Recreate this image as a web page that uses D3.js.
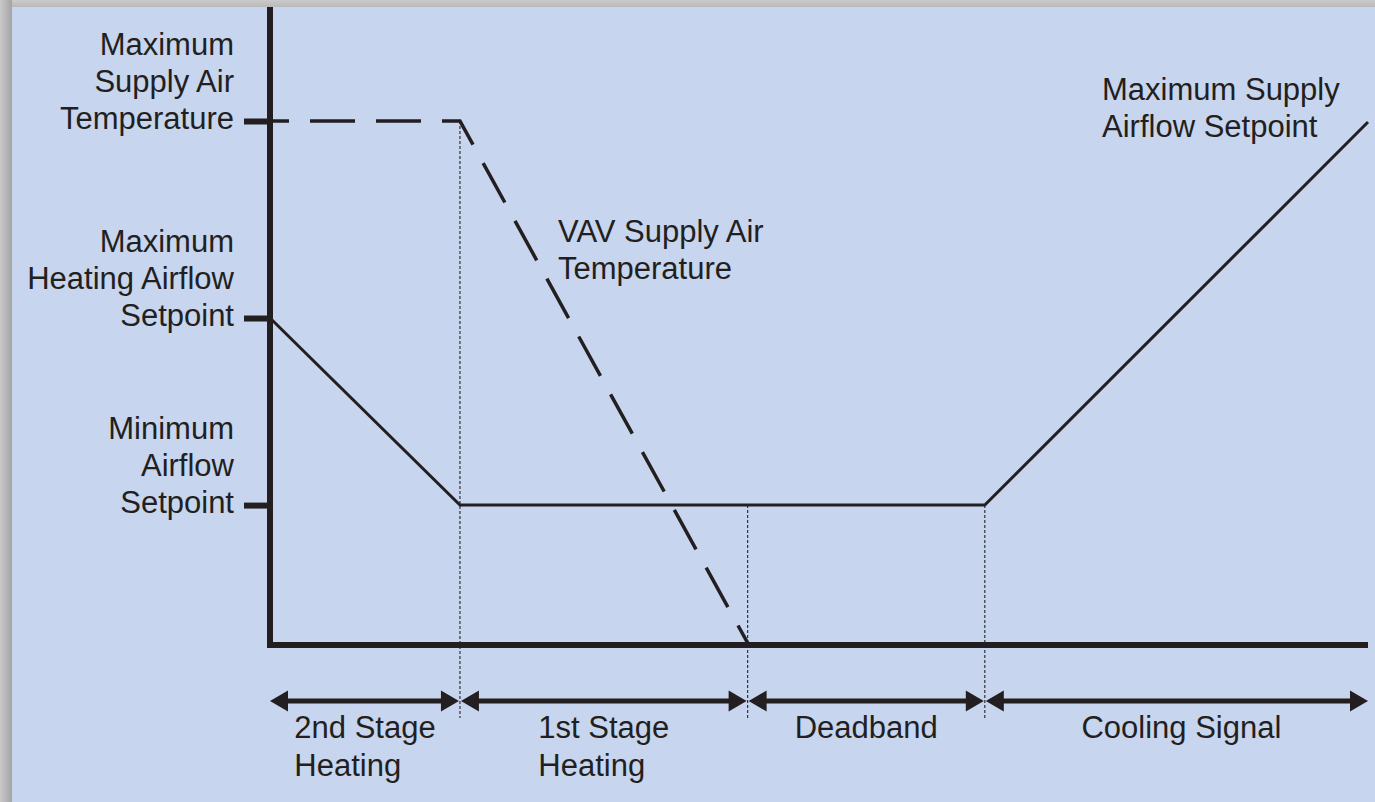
<!DOCTYPE html>
<html>
<head>
<meta charset="utf-8">
<script src="https://cdn.jsdelivr.net/npm/d3@7"></script>
<style>
  html, body { margin: 0; padding: 0; background: #c4c4c4; }
  svg { display: block; }
  text { font-family: "Liberation Sans", Arial, sans-serif; fill: #231f20; }
</style>
</head>
<body>
<svg id="chart" width="1375" height="802"></svg>
<script>
// ---- data (signal position 0..100, output level 0..100) ----
const regionBounds = [0, 17.3, 43.5, 65.1, 100];
const regionLabels = [["2nd Stage", "Heating"], ["1st Stage", "Heating"], ["Deadband"], ["Cooling Signal"]];
const airflowX = [0, 17.3, 65.1, 100];
const airflowY = [62.4, 26.7, 26.7, 99.8];
const supplyTempX = [0, 17.3, 43.5];
const supplyTempY = [100, 100, 0.4];
const yTickValues = [100, 62.4, 26.7];
const yTickLabels = [
  ["Maximum", "Supply Air", "Temperature"],
  ["Maximum", "Heating Airflow", "Setpoint"],
  ["Minimum", "Airflow", "Setpoint"]
];
const guideX = [17.3, 43.5, 65.1];
const guideTopY = [100, 26.7, 26.7];
const annotations = [
  { lines: ["VAV Supply Air", "Temperature"], x: 558, y: 242 },
  { lines: ["Maximum Supply", "Airflow Setpoint"], x: 1102, y: 100 }
];

// ---- layout ----
const W = 1375, H = 802;
const panel = { x: 12, y: 7 };
const ink = "#231f20";
const fontSize = 31, lineH = 37;

const svg = d3.select("#chart");
const defs = svg.append("defs");
const gl = defs.append("linearGradient").attr("id", "shadeL").attr("x1", 0).attr("x2", 1);
gl.append("stop").attr("offset", 0).attr("stop-color", "#c9c9c9");
gl.append("stop").attr("offset", 1).attr("stop-color", "#a4a4a4");
const gt = defs.append("linearGradient").attr("id", "shadeT").attr("x1", 0).attr("x2", 0).attr("y1", 0).attr("y2", 1);
gt.append("stop").attr("offset", 0).attr("stop-color", "#cbcbcb");
gt.append("stop").attr("offset", 1).attr("stop-color", "#b9b9b9");

svg.append("rect").attr("x", 0).attr("y", 0).attr("width", W).attr("height", H).attr("fill", "#c6c6c6");
svg.append("rect").attr("x", 0).attr("y", 0).attr("width", panel.x).attr("height", H).attr("fill", "url(#shadeL)");
svg.append("rect").attr("x", panel.x).attr("y", 0).attr("width", W - panel.x).attr("height", panel.y).attr("fill", "url(#shadeT)");
svg.append("rect").attr("x", panel.x).attr("y", panel.y).attr("width", W - panel.x).attr("height", H - panel.y).attr("fill", "#c7d5ee");

const x = d3.scaleLinear().domain([0, 100]).range([270, 1368]);
const y = d3.scaleLinear().domain([0, 100]).range([645, 121]);

// dotted guide lines
const guideBottom = 718;
svg.append("g").selectAll("line").data(guideX).join("line")
  .attr("x1", d => x(d)).attr("x2", d => x(d))
  .attr("y1", (d, i) => y(guideTopY[i])).attr("y2", guideBottom)
  .attr("stroke", "#333").attr("stroke-width", 1.2).attr("stroke-dasharray", "3,2");

// supply air temperature (dashed)
const line = d3.line().x(d => x(d[0])).y(d => y(d[1]));
svg.append("path")
  .attr("d", line(supplyTempX.map((v, i) => [v, supplyTempY[i]])))
  .attr("fill", "none").attr("stroke", ink).attr("stroke-width", 3.5)
  .attr("stroke-dasharray", "45,21").attr("stroke-dashoffset", 26)
  .attr("stroke-linejoin", "miter");

// airflow (solid)
svg.append("path")
  .attr("d", line(airflowX.map((v, i) => [v, airflowY[i]])))
  .attr("fill", "none").attr("stroke", ink).attr("stroke-width", 3)
  .attr("stroke-linejoin", "miter");

// axes lines
svg.append("line").attr("x1", x(0)).attr("x2", x(0)).attr("y1", panel.y).attr("y2", y(0) + 3)
  .attr("stroke", ink).attr("stroke-width", 6);
svg.append("line").attr("x1", x(0) - 3).attr("x2", x(100)).attr("y1", y(0)).attr("y2", y(0))
  .attr("stroke", ink).attr("stroke-width", 6);

// y ticks via d3 axis
const yAxis = d3.axisLeft(y).tickValues(yTickValues).tickSize(26).tickSizeOuter(0).tickFormat("");
const gy = svg.append("g").attr("transform", `translate(${x(0)},0)`).call(yAxis);
gy.select(".domain").remove();
gy.selectAll(".tick line").attr("stroke", ink).attr("stroke-width", 6);

// y tick labels (multi-line, right aligned)
const labelRight = 234;
yTickValues.forEach((v, i) => {
  const lines = yTickLabels[i];
  const t = svg.append("text").attr("text-anchor", "end").attr("font-size", fontSize);
  lines.forEach((s, j) => {
    t.append("tspan").attr("x", labelRight)
      .attr("y", y(v) + 8 - (lines.length - 1 - j) * lineH).text(s);
  });
});

// annotations
annotations.forEach(a => {
  const t = svg.append("text").attr("font-size", fontSize);
  a.lines.forEach((s, j) => t.append("tspan").attr("x", a.x).attr("y", a.y + j * lineH).text(s));
});

// region arrows
const arrowY = 701, headL = 18, headH = 10.5, gap = 1;
const ag = svg.append("g");
for (let i = 0; i < regionBounds.length - 1; i++) {
  const x0 = x(regionBounds[i]) + (i === 0 ? 0 : gap);
  const x1 = x(regionBounds[i + 1]) - (i === regionBounds.length - 2 ? 0 : gap);
  ag.append("line").attr("x1", x0 + headL - 2).attr("x2", x1 - headL + 2)
    .attr("y1", arrowY).attr("y2", arrowY).attr("stroke", ink).attr("stroke-width", 5);
  ag.append("path").attr("d", `M${x0},${arrowY}L${x0 + headL},${arrowY - headH}L${x0 + headL},${arrowY + headH}Z`).attr("fill", ink);
  ag.append("path").attr("d", `M${x1},${arrowY}L${x1 - headL},${arrowY - headH}L${x1 - headL},${arrowY + headH}Z`).attr("fill", ink);
}

// region labels: block centred in region, lines left-aligned
const regionNudge = [0, 0, 0, 5];
regionLabels.forEach((lines, i) => {
  const cx = (x(regionBounds[i]) + x(regionBounds[i + 1])) / 2 + regionNudge[i];
  const t = svg.append("text").attr("font-size", fontSize);
  const spans = lines.map((s, j) => t.append("tspan").attr("y", 738 + j * 38).text(s));
  const widths = spans.map(sp => sp.node().getComputedTextLength());
  const left = cx - d3.max(widths) / 2;
  spans.forEach(sp => sp.attr("x", left));
});
</script>
</body>
</html>
